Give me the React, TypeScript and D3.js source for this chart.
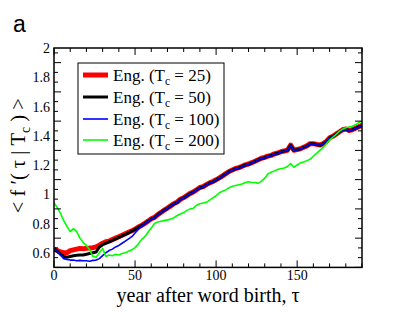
import React from "react";
import * as d3 from "d3";

// years 0..190 step 2
const years: number[] = d3.range(0, 191, 2);

const mainTail: number[] = [
  0.76, 0.775, 0.785, 0.8, 0.815, 0.83, 0.84, 0.86, 0.875, 0.89, // 50..68
  0.905, 0.92, 0.935, 0.945, 0.965, 0.975, 0.99, 1.005, 1.015, 1.03, // 70..88
  1.045, 1.05, 1.065, 1.077, 1.085, 1.098, 1.11, 1.125, 1.14, 1.155, // 90..108
  1.165, 1.175, 1.18, 1.19, 1.2, 1.205, 1.215, 1.225, 1.235, 1.245, // 110..128
  1.25, 1.26, 1.265, 1.275, 1.28, 1.29, 1.295, 1.3, 1.335, 1.3, // 130..148
  1.305, 1.31, 1.32, 1.33, 1.345, 1.345, 1.34, 1.335, 1.345, 1.36, // 150..168
  1.385, 1.395, 1.41, 1.425, 1.44, 1.445, 1.435, 1.44, 1.45, 1.46, 1.47, // 170..190
];

const eng25: number[] = [
  0.625, 0.615, 0.605, 0.6, 0.6, 0.615, 0.62, 0.625, 0.63, 0.628,
  0.63, 0.632, 0.635, 0.64, 0.652, 0.665, 0.675, 0.68, 0.69, 0.7,
  0.71, 0.72, 0.73, 0.74, 0.75,
  0.762, 0.776, 0.787, 0.801, 0.816, 0.832, 0.842, 0.861, 0.876, 0.892,
  0.906, 0.921, 0.936, 0.947, 0.966, 0.977, 0.991, 1.006, 1.016, 1.031,
  1.046, 1.052, 1.066, 1.078, 1.087, 1.099, 1.112, 1.126, 1.141, 1.156,
  1.166, 1.176, 1.182, 1.191, 1.201, 1.207, 1.216, 1.226, 1.236, 1.246,
  1.252, 1.261, 1.266, 1.276, 1.282, 1.291, 1.296, 1.301, 1.336, 1.301,
  1.306, 1.311, 1.321, 1.331, 1.346, 1.346, 1.341, 1.336, 1.346, 1.361,
  1.386, 1.396, 1.411, 1.426, 1.441, 1.446, 1.436, 1.441, 1.451, 1.461, 1.471,
];

const eng50: number[] = [
  0.625, 0.61, 0.59, 0.575, 0.57, 0.575, 0.58, 0.583, 0.585, 0.585,
  0.59, 0.595, 0.6, 0.605, 0.64, 0.655, 0.665, 0.675, 0.685, 0.695,
  0.705, 0.715, 0.725, 0.737, 0.748,
  ...mainTail,
];

const eng100: number[] = [
  0.63, 0.61, 0.585, 0.56, 0.555, 0.55, 0.55, 0.545, 0.548, 0.545,
  0.545, 0.542, 0.548, 0.55, 0.56, 0.58, 0.6, 0.615, 0.625, 0.64,
  0.65, 0.665, 0.68, 0.695, 0.71, 0.735, 0.76, 0.78,
  0.799, 0.814, 0.829, 0.839, 0.859, 0.874, 0.889, // 56..68
  0.904, 0.919, 0.934, 0.944, 0.964, 0.974, 0.989, 1.004, 1.014, 1.029,
  1.044, 1.049, 1.064, 1.076, 1.084, 1.097, 1.109, 1.124, 1.139, 1.154,
  1.164, 1.174, 1.179, 1.189, 1.199, 1.204, 1.214, 1.224, 1.234, 1.244,
  1.249, 1.259, 1.264, 1.274, 1.279, 1.289, 1.294, 1.299, 1.334, 1.299,
  1.304, 1.309, 1.319, 1.329, 1.344, 1.344, 1.339, 1.334, 1.344, 1.359,
  1.384, 1.394, 1.409, 1.424, 1.439, 1.444, 1.434, 1.439, 1.449, 1.459, 1.469,
];

const eng200: number[] = [
  0.94, 0.91, 0.87, 0.82, 0.78, 0.745, 0.765, 0.745, 0.7, 0.67,
  0.65, 0.62, 0.575, 0.57, 0.6, 0.63, 0.575, 0.585, 0.58, 0.59,
  0.585, 0.595, 0.6, 0.61, 0.62, 0.635, 0.66, 0.69, 0.71, 0.74,
  0.77, 0.8, 0.81, 0.815, 0.82, 0.825, 0.83, 0.84, 0.855, 0.865,
  0.875, 0.89, 0.9, 0.905, 0.925, 0.935, 0.94, 0.945, 0.96, 0.975,
  0.99, 1.01, 1.02, 1.03, 1.045, 1.055, 1.06, 1.065, 1.07, 1.08,
  1.085, 1.08, 1.08, 1.075, 1.09, 1.11, 1.14, 1.15, 1.16, 1.17,
  1.175, 1.18, 1.19, 1.21, 1.185, 1.2, 1.215, 1.22, 1.23, 1.24,
  1.26, 1.28, 1.3, 1.32, 1.345, 1.37, 1.39, 1.41, 1.43, 1.445,
  1.455, 1.46, 1.465, 1.475, 1.49, 1.5,
];

const seriesLabels: string[] = ["25", "50", "100", "200"];
const seriesColors: string[] = ["#ff0000", "#000000", "#0000ff", "#00ff00"];
const seriesWidths: number[] = [5, 3, 1.6, 1.6];
const seriesValues: number[][] = [eng25, eng50, eng100, eng200];

const xTicks: number[] = [0, 50, 100, 150];
const yTicks: number[] = [0.6, 0.8, 1, 1.2, 1.4, 1.6, 1.8, 2];

export default function App() {
  const W = 407, H = 315;
  const L = 54, R = 362, T = 48, B = 267.4;
  const x = d3.scaleLinear().domain([0, 190]).range([L, R]);
  const y = d3.scaleLinear().domain([0.5, 2]).range([B, T]);

  const xMinor = d3.range(0, 191, 10);
  const yMinor = d3.range(0, 23).map((i) => 0.5 + (i * 0.2) / 3).filter((v) => v <= 2.0001);

  const line = d3
    .line<number>()
    .x((_, i) => x(years[i]))
    .y((d) => y(d));

  const serif = "'Liberation Serif', 'Times New Roman', serif";
  const tickLen = 7, minorLen = 4;

  const legX = 78, legY = 63, legW = 146, legH = 91;
  const rowY = [75, 97, 119, 140];

  return (
    <svg
      width={W}
      height={H}
      style={{ position: "absolute", left: 0, top: 0, background: "#fff" }}
    >
      <rect x={0} y={0} width={W} height={H} fill="#fff" />
      <text x={13} y={32} fontFamily="'Liberation Sans', Arial, sans-serif" fontSize={23}>
        a
      </text>

      <defs>
        <clipPath id="plotclip">
          <rect x={L} y={T} width={R - L} height={B - T} />
        </clipPath>
      </defs>

      <g clipPath="url(#plotclip)">
        {seriesValues.map((vals, si) => (
          <path
            key={si}
            d={line(vals) || ""}
            fill="none"
            stroke={seriesColors[si]}
            strokeWidth={seriesWidths[si]}
            strokeLinejoin="round"
          />
        ))}
      </g>

      {/* ticks */}
      <g stroke="#000" strokeWidth={1}>
        {xMinor.map((v) => {
          const len = v % 50 === 0 ? tickLen : minorLen;
          return (
            <g key={"xt" + v}>
              <line x1={x(v)} x2={x(v)} y1={B} y2={B - len} />
              <line x1={x(v)} x2={x(v)} y1={T} y2={T + len} />
            </g>
          );
        })}
        {yMinor.map((v, i) => {
          const len = i % 3 === 0 ? tickLen : minorLen;
          return (
            <g key={"yt" + i}>
              <line x1={L} x2={L + len} y1={y(v)} y2={y(v)} />
              <line x1={R} x2={R - len} y1={y(v)} y2={y(v)} />
            </g>
          );
        })}
      </g>
      <rect x={L} y={T} width={R - L} height={B - T} fill="none" stroke="#000" strokeWidth={1.5} />

      {/* tick labels */}
      <g fontFamily={serif} fontSize={14} fill="#000">
        {xTicks.map((v) => (
          <text key={"xl" + v} x={x(v)} y={B + 13} textAnchor="middle">
            {v}
          </text>
        ))}
        {yTicks.map((v) => (
          <text key={"yl" + v} x={L - 4} y={y(v) + 5} textAnchor="end">
            {v}
          </text>
        ))}
      </g>

      <text x={(L + R) / 2} y={302} textAnchor="middle" fontFamily={serif} fontSize={20}>
        year after word birth, τ
      </text>

      <text
        transform={`translate(25, ${(T + B) / 2 - 2}) rotate(-90)`}
        textAnchor="middle"
        fontFamily={serif}
        fontSize={20.5}
      >
        {"< f ′( τ | T"}
        <tspan fontSize={14} dy={5}>c</tspan>
        <tspan dy={-5}>{" ) >"}</tspan>
      </text>

      {/* legend */}
      <rect x={legX} y={legY} width={legW} height={legH} fill="#fff" stroke="#000" strokeWidth={1} />
      {seriesLabels.map((lab, i) => (
        <g key={"lg" + i}>
          <line
            x1={83}
            x2={108}
            y1={rowY[i]}
            y2={rowY[i]}
            stroke={seriesColors[i]}
            strokeWidth={seriesWidths[i]}
          />
          <text x={113} y={rowY[i] + 5.5} fontFamily={serif} fontSize={17}>
            {"Eng. (T"}
            <tspan fontSize={11.5} dy={4}>c</tspan>
            <tspan dy={-4}>{" = " + lab + ")"}</tspan>
          </text>
        </g>
      ))}
    </svg>
  );
}
